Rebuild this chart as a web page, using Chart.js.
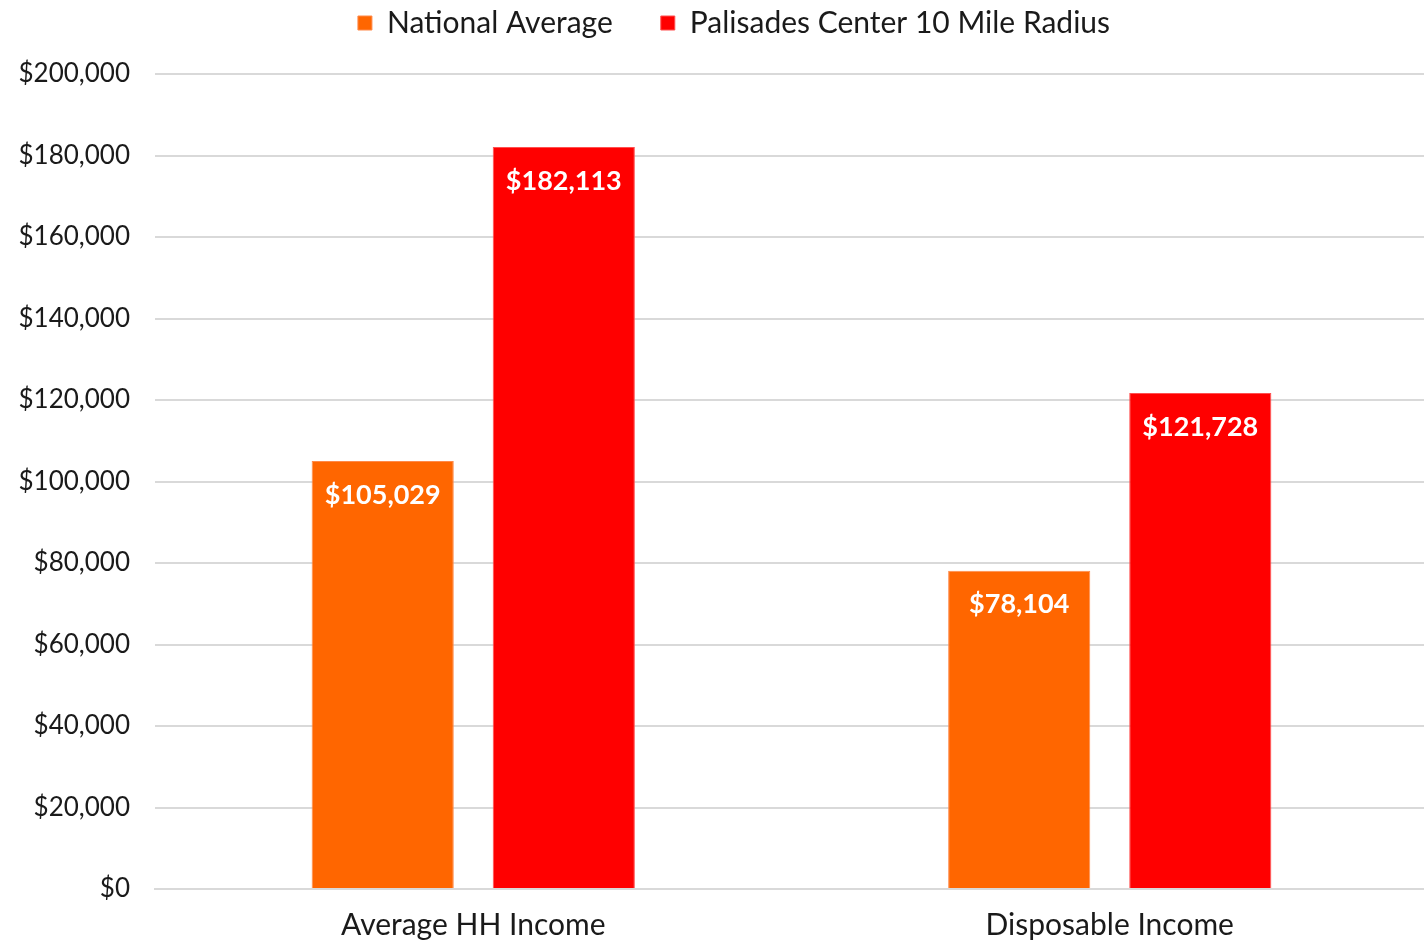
<!DOCTYPE html>
<html>
<head>
<meta charset="utf-8">
<script src="https://cdn.jsdelivr.net/npm/chart.js@4"></script>
<style>
  html, body { margin: 0; padding: 0; background: #fff; }
</style>
</head>
<body>
<canvas id="chart" width="1424" height="940"></canvas>
<script>
const categories = ['Average HH Income', 'Disposable Income'];
const nationalAverage = [105029, 78104];
const palisadesRadius = [182113, 121728];
const seriesNames = ['National Average', 'Palisades Center 10 Mile Radius'];
const yTicks = [0, 20000, 40000, 60000, 80000, 100000, 120000, 140000, 160000, 180000, 200000];

const FONT = 'Lato, "Open Sans", sans-serif';
const money = v => '$' + v.toLocaleString('en-US');

// legend reserves 74px, but its row is drawn near the top edge
// and sits a little right of the page centre
const legendHeight = {
  id: 'legendHeight',
  beforeInit(chart) {
    const legend = chart.legend;
    const fit = legend.fit;
    legend.fit = function () {
      fit.bind(legend)();
      this.height = 74;
    };
    const draw = legend.draw;
    legend.draw = function () {
      const { top, left, right } = this;
      this.top = top - 40;
      this.left = left + 22;
      this.right = right + 22;
      draw.bind(legend)();
      this.top = top;
      this.left = left;
      this.right = right;
    };
  }
};

// the plot runs a few px past the right edge in the original
const widenX = {
  id: 'widenX',
  afterLayout(chart) {
    const x = chart.scales.x;
    x.right = chart.width + 4;
    x.width = x.right - x.left;
    x.configure();
  }
};

// white value labels inside the top of each bar
const barLabels = {
  id: 'barLabels',
  afterDatasetsDraw(chart) {
    const ctx = chart.ctx;
    ctx.save();
    ctx.fillStyle = '#ffffff';
    ctx.font = 'bold 27px ' + FONT;
    ctx.textAlign = 'center';
    ctx.textBaseline = 'middle';
    chart.data.datasets.forEach((ds, i) => {
      chart.getDatasetMeta(i).data.forEach((bar, j) => {
        ctx.fillText(money(ds.data[j]), bar.x, bar.y + 34);
      });
    });
    ctx.restore();
  }
};

new Chart(document.getElementById('chart'), {
  type: 'bar',
  data: {
    labels: categories,
    datasets: [
      {
        label: seriesNames[0],
        data: nationalAverage,
        backgroundColor: '#ff6600',
        borderColor: '#ff8a4a',
        borderWidth: 1
      },
      {
        label: seriesNames[1],
        data: palisadesRadius,
        backgroundColor: '#ff0000',
        borderColor: '#ff5050',
        borderWidth: 1
      }
    ]
  },
  options: {
    responsive: false,
    animation: false,
    maintainAspectRatio: false,
    layout: { padding: 0 },
    datasets: {
      bar: { categoryPercentage: 0.569, barPercentage: 0.785 }
    },
    plugins: {
      legend: {
        position: 'top',
        labels: {
          font: { family: FONT, size: 30 },
          color: '#1a1a1a',
          boxWidth: 14,
          boxHeight: 14,
          padding: 48
        }
      },
      tooltip: { enabled: false }
    },
    scales: {
      x: {
        grid: { display: false },
        border: { color: '#d9d9d9', width: 2 },
        ticks: {
          font: { family: FONT, size: 30 },
          color: '#1a1a1a',
          padding: 10
        },
        afterFit(scale) { scale.height = 51; }
      },
      y: {
        min: 0,
        max: 200000,
        afterBuildTicks(scale) { scale.ticks = yTicks.map(v => ({ value: v })); },
        grid: { color: '#d9d9d9', lineWidth: 2, drawTicks: false },
        border: { display: false },
        ticks: {
          font: { family: FONT, size: 26 },
          color: '#1a1a1a',
          padding: 25,
          callback: v => money(v)
        },
        afterFit(scale) { scale.width = 155; }
      }
    }
  },
  plugins: [legendHeight, widenX, barLabels]
});
</script>
</body>
</html>
